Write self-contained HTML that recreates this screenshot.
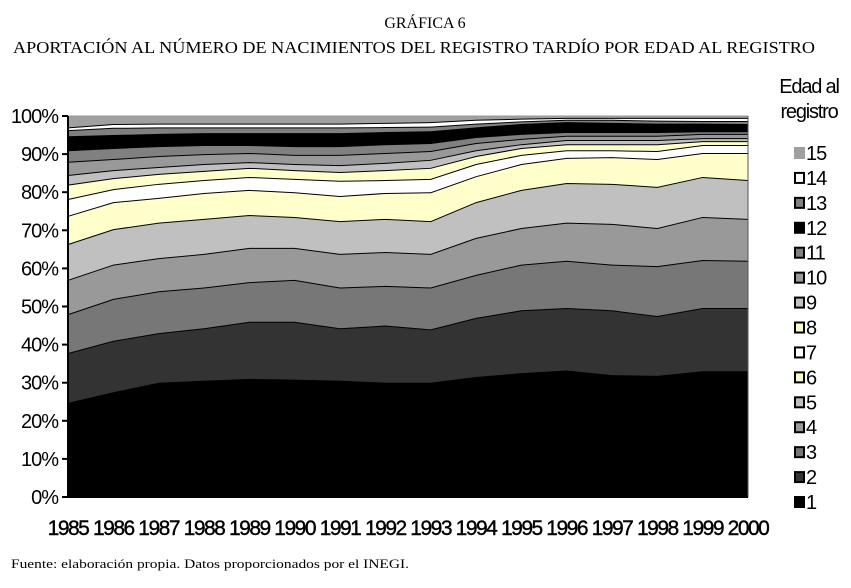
<!DOCTYPE html>
<html><head><meta charset="utf-8"><style>
body{margin:0;background:#fff;width:851px;height:583px;overflow:hidden;font-family:"Liberation Sans",sans-serif}
</style></head><body>
<svg id="s" width="851" height="583" xmlns="http://www.w3.org/2000/svg">
<text x="425" y="28" text-anchor="middle" font-family="Liberation Serif,serif" font-size="16">GRÁFICA 6</text>
<text x="414" y="53" text-anchor="middle" font-family="Liberation Serif,serif" font-size="17" textLength="802" lengthAdjust="spacingAndGlyphs">APORTACIÓN AL NÚMERO DE NACIMIENTOS DEL REGISTRO TARDÍO POR EDAD AL REGISTRO</text>
<text x="11" y="568" font-family="Liberation Serif,serif" font-size="13" textLength="398" lengthAdjust="spacingAndGlyphs">Fuente: elaboración propia. Datos proporcionados por el INEGI.</text>
<g id="plot"></g>
</svg>
<script>
var B=[
[24.7,27.5,30,30.5,31,30.8,30.5,30,30,31.5,32.5,33.2,32,31.8,33,33],
[37.8,41,43,44.3,46,46,44.3,45,44,47,49,49.6,49,47.5,49.6,49.6],
[48,52,54,55,56.4,57,55,55.4,55,58.3,61,62,61,60.6,62.2,62],
[57,61,62.7,63.8,65.4,65.4,63.8,64.3,63.8,68,70.6,72,71.7,70.6,73.5,73],
[66.4,70.3,72,73,74,73.5,72.4,73,72.4,77.4,80.6,82.4,82.2,81.4,84,83.2],
[73.8,77.4,78.5,79.8,80.6,80,79,79.8,80,84.2,87.4,89,89.2,88.7,90.3,90.3],
[78.2,80.8,82.2,83.2,84,83.5,83,83.2,83.5,87.4,89.8,91,91,90.8,92.4,92.4],
[82,83.7,84.8,85.6,86.4,85.8,85.3,85.8,86.4,89.5,91.6,92.6,92.6,92.6,93.4,93.4],
[84.5,85.8,86.6,87.4,87.9,87.4,87.1,87.7,88.5,91,92.6,93.7,93.7,93.7,94.2,94.2],
[88,88.7,89.5,90,90.3,89.8,89.8,90.3,90.8,92.9,94,94.8,94.8,94.8,95.3,95.3],
[91,91.6,92.1,92.4,92.4,92.1,92.1,92.6,92.9,94.5,95.3,95.8,95.8,95.8,96,96],
[94.7,95,95.3,95.5,95.5,95.5,95.5,95.8,96,97,97.9,98.4,98.2,98,98,97.9],
[96.3,96.9,97,97,97,97,97,97.1,97.2,98,98.6,99,99,98.8,98.7,98.7],
[97,97.9,98,98,98,98,98,98.2,98.4,99,99.3,99.5,99.5,99.5,99.5,99.5],
[100,100,100,100,100,100,100,100,100,100,100,100,100,100,100,100]];
var C=["#000","#333","#777","#999","#c0c0c0","#ffffcc","#fff","#ffffcc","#c0c0c0","#999","#808080","#000","#808080","#fff","#a0a0a0"];
var X0=68,X1=748,Y0=497,H=381;
function X(i){return X0+i*(X1-X0)/15}function Y(p){return Y0-p*H/100}
var s="";var prev=[];for(var i=0;i<16;i++)prev.push(0);
for(var k=0;k<15;k++){var pts=[];for(var i=0;i<16;i++)pts.push(X(i)+","+Y(B[k][i]));
var bot=[];for(var i=15;i>=0;i--)bot.push(X(i)+","+Y(prev[i]));
s+='<polygon points="'+pts.join(" ")+" "+bot.join(" ")+'" fill="'+C[k]+'"/>';
if(k<14)s+='<polyline points="'+pts.join(" ")+'" fill="none" stroke="#000" stroke-width="2"/>';
prev=B[k];}
s+='<line x1="'+X0+'" y1="116" x2="'+X1+'" y2="116" stroke="#999" stroke-width="1"/>';
s+='<line x1="'+X1+'" y1="116" x2="'+X1+'" y2="497" stroke="#555" stroke-width="1"/>';
s+='<line x1="'+X0+'" y1="116" x2="'+X0+'" y2="497" stroke="#000" stroke-width="2"/>';
s+='<line x1="'+X0+'" y1="497" x2="'+X1+'" y2="497" stroke="#000" stroke-width="2"/>';
for(var t=0;t<=10;t++){var y=Y(t*10);s+='<line x1="62" y1="'+y+'" x2="'+X0+'" y2="'+y+'" stroke="#000" stroke-width="2"/>';
s+='<text x="58" y="'+(y+7)+'" text-anchor="end" font-size="20" letter-spacing="-1">'+(t*10)+'%</text>';}
for(var i=0;i<16;i++)s+='<text x="'+X(i)+'" y="535" text-anchor="middle" font-size="21" letter-spacing="-1.5" stroke="#000" stroke-width="0.4">'+(1985+i)+'</text>';
s+='<text x="809" y="93" text-anchor="middle" font-size="20" letter-spacing="-1.2">Edad al</text>';
s+='<text x="809" y="118" text-anchor="middle" font-size="20" letter-spacing="-1.2">registro</text>';
for(var k=14;k>=0;k--){var y=153+(14-k)*24.93;
var brd=(k==14)?C[k]:"#000";
s+='<rect x="795" y="'+(y-5)+'" width="9" height="10" fill="'+C[k]+'" stroke="'+brd+'" stroke-width="2"/>';
s+='<text x="806" y="'+(y+7)+'" font-size="20" letter-spacing="-1">'+(k+1)+'</text>';}
document.getElementById("plot").innerHTML=s;
</script>
</body></html>
